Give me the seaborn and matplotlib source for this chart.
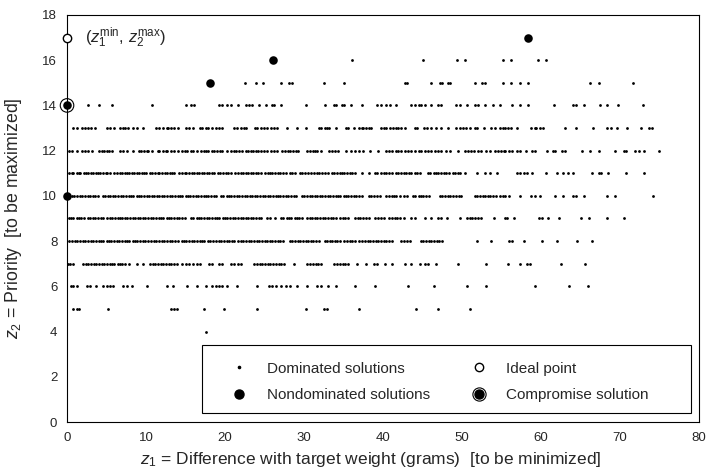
import numpy as np
import pandas as pd
import matplotlib
matplotlib.use("Agg")
import matplotlib.pyplot as plt
from matplotlib.lines import Line2D
from matplotlib.patches import Rectangle
from matplotlib.legend_handler import HandlerTuple
import seaborn as sns

# Dominated solutions: z1 values (grams) for each priority level z2
dom_z2_4 = [17.6]
dom_z2_5 = [0.8, 1.3, 1.5, 5.2, 13.2, 13.6, 13.9, 17.3, 19.9, 24.1, 30.2, 32.5, 32.9,
            36.9, 44.2, 46.9, 51.0]
dom_z2_6 = [0.5, 0.8, 1.3, 2.5, 2.9, 3.7, 4.5, 5.0, 5.4, 5.8, 7.1, 7.6, 8.2, 10.1, 12.7,
            13.4, 15.2, 16.4, 17.6, 18.4, 18.9, 19.3, 19.6, 20.2, 21.5, 24.1, 25.6, 25.9,
            26.4, 27.1, 27.7, 28.2, 29.1, 30.4, 31.6, 32.2, 33.0, 34.1, 36.5, 39.0, 43.2,
            46.5, 50.6, 53.1, 59.3, 63.5, 66.0]
dom_z2_7 = [0.1, 0.4, 0.7, 2.0, 2.4, 2.7, 3.0, 3.4, 3.7, 4.0, 4.4, 4.7, 5.0, 5.4, 5.7,
            6.0, 6.4, 6.7, 7.0, 7.4, 7.8, 8.9, 9.6, 10.5, 10.9, 11.2, 11.5, 11.9, 12.2,
            12.5, 12.9, 13.2, 13.6, 13.9, 14.5, 15.1, 15.5, 15.9, 16.4, 16.8, 18.0, 18.4,
            19.3, 19.6, 20.8, 21.2, 21.6, 22.0, 23.7, 24.1, 24.4, 24.7, 25.1, 25.4, 25.7,
            26.1, 26.4, 26.8, 27.1, 27.5, 28.7, 30.4, 30.8, 31.1, 31.5, 31.8, 32.2, 33.8,
            34.2, 34.5, 34.9, 35.2, 35.6, 36.7, 37.9, 38.9, 39.3, 40.3, 41.1, 42.8, 43.5,
            44.7, 45.3, 45.7, 46.7, 49.5, 53.1, 55.8, 57.4, 58.2, 58.6, 62.5, 65.6]
dom_z2_8 = [0.3, 0.6, 1.0, 1.3, 1.6, 2.0, 2.3, 2.7, 3.0, 3.3, 3.7, 4.0, 4.3, 4.6, 5.0,
            5.3, 5.6, 6.0, 6.3, 6.6, 6.9, 7.3, 7.6, 7.9, 8.3, 8.6, 8.9, 9.2, 9.6, 9.9,
            10.2, 10.6, 11.0, 11.3, 11.7, 12.0, 12.3, 12.7, 13.0, 13.3, 13.7, 14.1, 14.5,
            14.8, 15.1, 15.5, 15.8, 16.1, 16.5, 16.8, 17.1, 17.4, 17.8, 18.1, 18.5, 18.9,
            19.2, 19.5, 19.9, 20.2, 20.5, 20.9, 21.2, 21.7, 22.0, 22.3, 22.7, 23.0, 23.3,
            23.7, 24.0, 24.3, 24.7, 25.0, 25.3, 25.7, 26.0, 26.3, 26.7, 27.0, 27.4, 28.2,
            28.5, 28.9, 29.2, 29.5, 29.9, 30.2, 30.5, 30.9, 31.2, 31.5, 31.9, 32.6, 32.9,
            33.3, 33.6, 33.9, 34.2, 34.6, 35.1, 35.5, 35.8, 36.1, 36.5, 36.9, 37.4, 37.7,
            38.1, 38.4, 38.7, 39.1, 39.4, 39.7, 40.1, 40.4, 40.7, 41.1, 42.3, 42.6, 43.0,
            43.4, 44.8, 45.1, 45.5, 45.8, 46.1, 46.5, 46.8, 47.1, 47.5, 51.9, 53.7, 56.0,
            56.3, 57.9, 60.1, 62.0, 64.6, 66.5]
dom_z2_9 = [0.2, 0.5, 0.8, 1.2, 1.5, 1.8, 2.2, 2.6, 2.9, 3.3, 3.6, 3.9, 4.3, 4.6, 5.1,
            5.4, 5.7, 6.1, 6.4, 6.7, 7.0, 7.3, 7.6, 8.0, 8.3, 8.6, 9.0, 9.3, 9.6, 9.9,
            10.3, 10.6, 10.9, 11.3, 11.6, 11.9, 12.2, 12.6, 12.9, 13.2, 13.6, 13.9, 14.2,
            14.5, 14.9, 15.7, 16.0, 16.4, 16.7, 17.0, 17.4, 17.7, 18.0, 18.3, 18.7, 19.0,
            19.3, 19.7, 20.0, 20.3, 20.6, 21.0, 21.3, 21.6, 22.0, 22.3, 22.6, 22.9, 23.3,
            23.6, 23.9, 24.3, 24.6, 25.3, 25.7, 26.3, 27.1, 27.4, 27.8, 28.1, 28.4, 28.8,
            29.1, 29.4, 29.8, 30.4, 30.7, 31.0, 31.4, 31.7, 32.0, 32.4, 32.7, 33.0, 33.4,
            33.7, 34.1, 34.5, 34.9, 35.2, 35.6, 36.4, 36.8, 37.1, 37.5, 37.8, 38.2, 39.0,
            39.4, 39.7, 40.1, 40.8, 41.1, 41.5, 41.8, 42.2, 42.6, 43.5, 44.0, 45.3, 46.1,
            47.0, 47.4, 48.1, 49.7, 50.6, 51.0, 51.3, 51.7, 52.0, 52.4, 54.1, 55.4, 55.7,
            56.6, 59.8, 60.1, 60.9, 62.3, 65.1, 66.1, 68.4, 70.5]
dom_z2_10 = [0.6, 0.9, 1.3, 1.6, 1.9, 2.3, 2.6, 2.9, 3.3, 3.6, 3.9, 4.5, 4.8, 5.2, 5.5,
             5.8, 6.1, 6.5, 6.8, 7.1, 7.5, 7.8, 8.1, 8.4, 8.8, 9.1, 9.4, 9.7, 10.1, 10.4,
             10.7, 11.0, 11.4, 11.7, 12.0, 12.3, 12.7, 13.0, 13.3, 13.7, 14.0, 14.3, 14.6,
             15.0, 15.3, 15.6, 15.9, 16.3, 16.6, 16.9, 17.3, 17.6, 17.9, 18.2, 18.6, 18.9,
             19.5, 19.8, 20.2, 20.5, 20.8, 21.1, 21.5, 21.8, 22.1, 22.5, 22.8, 23.1, 23.4,
             23.8, 24.1, 24.4, 24.8, 25.1, 25.4, 25.7, 26.1, 26.4, 26.7, 27.0, 27.4, 27.7,
             28.0, 28.4, 28.7, 29.0, 29.7, 30.0, 30.4, 30.7, 31.0, 31.4, 31.7, 32.0, 32.3,
             32.7, 33.0, 33.3, 33.7, 34.0, 34.3, 34.6, 35.0, 35.3, 35.6, 36.0, 36.3, 36.6,
             36.9, 37.3, 38.2, 38.5, 38.9, 39.2, 39.6, 40.4, 40.7, 41.1, 41.4, 41.7, 42.1,
             42.6, 43.1, 43.8, 44.1, 44.5, 44.8, 45.1, 45.5, 45.8, 47.2, 47.5, 47.9, 48.2,
             48.5, 48.9, 49.2, 49.6, 49.9, 51.6, 51.9, 52.3, 52.6, 52.9, 53.3, 53.6, 53.9,
             54.3, 54.8, 55.2, 55.5, 56.0, 57.4, 58.7, 59.3, 59.9, 61.8, 62.8, 64.0, 64.4,
             65.5, 68.4, 69.4, 74.2]
dom_z2_11 = [0.3, 0.6, 0.8, 1.2, 1.5, 1.7, 2.1, 2.4, 2.6, 3.0, 3.3, 3.7, 3.9, 4.2, 4.6,
             4.9, 5.1, 5.5, 6.0, 6.3, 6.7, 6.9, 7.3, 7.6, 7.8, 8.2, 8.5, 8.8, 9.1, 9.5,
             9.7, 10.0, 10.5, 10.8, 11.1, 11.5, 11.7, 12.0, 12.4, 12.6, 13.0, 13.3, 13.6,
             14.2, 14.5, 14.9, 15.1, 15.5, 15.8, 16.1, 16.4, 16.7, 17.1, 17.3, 17.7, 18.0,
             18.3, 18.6, 19.1, 19.4, 19.8, 20.1, 20.4, 20.8, 21.3, 21.6, 22.0, 22.3, 22.6,
             22.9, 23.3, 23.6, 23.9, 24.2, 24.5, 25.0, 25.4, 25.7, 26.0, 26.3, 26.7, 27.0,
             27.3, 27.7, 28.2, 28.5, 28.9, 29.5, 29.8, 30.1, 30.5, 30.9, 31.3, 31.6, 31.9,
             32.3, 32.6, 33.0, 33.5, 33.8, 34.2, 34.5, 34.8, 35.1, 35.5, 35.8, 36.1, 36.4,
             37.3, 38.2, 39.0, 39.3, 39.7, 40.1, 40.4, 40.8, 41.1, 41.6, 41.9, 42.3, 42.6,
             42.9, 43.3, 43.6, 44.0, 44.3, 44.7, 45.7, 46.0, 46.4, 46.7, 47.0, 47.4, 47.7,
             48.0, 48.4, 48.8, 49.1, 49.5, 49.8, 50.4, 51.9, 52.9, 53.5, 54.4, 56.9, 57.4,
             57.8, 58.2, 58.8, 60.6, 62.0, 62.8, 63.4, 64.1, 66.4, 67.4, 67.6, 68.5, 70.8,
             73.1]
dom_z2_12 = [0.2, 0.6, 1.3, 1.9, 2.3, 2.6, 3.1, 4.0, 4.4, 4.7, 5.0, 5.3, 5.7, 6.7, 7.1,
             7.6, 8.3, 9.1, 9.4, 9.7, 10.1, 10.3, 10.7, 11.5, 11.7, 12.1, 12.5, 12.7, 13.2,
             13.6, 14.0, 14.5, 14.9, 15.2, 15.7, 16.0, 16.4, 17.0, 17.3, 17.6, 17.9, 18.3,
             18.6, 19.0, 19.4, 19.6, 20.2, 20.8, 21.2, 21.4, 21.8, 22.2, 22.7, 22.9, 23.3,
             23.6, 23.9, 24.2, 24.6, 24.9, 25.3, 25.8, 26.2, 26.6, 27.2, 27.6, 28.0, 28.2,
             28.6, 29.0, 29.3, 30.4, 30.7, 31.1, 31.4, 31.7, 32.2, 33.2, 33.5, 33.9, 34.3,
             35.3, 36.0, 36.4, 36.9, 37.5, 38.4, 39.4, 40.4, 40.8, 41.1, 41.6, 41.9, 42.3,
             42.8, 43.2, 43.6, 44.1, 44.5, 44.8, 45.3, 45.7, 46.1, 46.6, 47.0, 47.4, 48.0,
             48.5, 49.5, 50.4, 50.8, 51.1, 51.5, 52.0, 52.4, 53.0, 53.5, 54.2, 54.5, 54.9,
             55.3, 55.5, 55.9, 56.3, 56.9, 57.4, 58.1, 58.9, 59.3, 60.7, 61.5, 61.8, 62.6,
             63.0, 65.2, 66.2, 67.4, 69.4, 70.5, 70.8, 71.9, 72.4, 73.0, 74.9]
dom_z2_13 = [0.8, 1.3, 1.9, 2.3, 2.6, 3.0, 3.5, 5.0, 5.5, 6.0, 6.7, 7.1, 7.3, 7.7, 8.3,
             8.9, 9.6, 11.3, 11.7, 12.1, 12.6, 12.8, 13.2, 13.6, 14.0, 15.0, 15.5, 15.9,
             16.8, 17.1, 17.6, 17.9, 18.4, 18.9, 19.3, 19.6, 21.2, 21.5, 22.0, 22.4, 22.7,
             23.8, 24.1, 24.6, 24.9, 25.3, 25.8, 26.2, 26.6, 27.8, 29.1, 30.2, 31.9, 32.2,
             32.6, 32.9, 33.2, 34.1, 35.3, 35.6, 36.3, 36.9, 37.3, 37.5, 37.8, 38.2, 38.5,
             39.7, 40.1, 40.4, 40.9, 41.3, 41.6, 41.9, 42.3, 42.8, 44.1, 44.3, 45.2, 45.6,
             46.1, 46.7, 47.4, 48.2, 49.2, 49.7, 50.1, 50.5, 51.0, 51.6, 51.9, 52.8, 53.7,
             54.2, 54.8, 55.2, 55.4, 55.8, 56.2, 56.9, 58.7, 59.2, 59.4, 59.9, 60.3, 63.0,
             64.4, 66.6, 68.3, 68.8, 69.6, 70.9, 72.7, 73.7, 74.1]
dom_z2_14 = [2.6, 4.0, 5.7, 10.7, 15.1, 15.7, 16.1, 19.3, 19.6, 20.2, 20.8, 21.7, 22.7,
             23.0, 23.4, 24.3, 25.2, 25.9, 26.2, 27.1, 30.2, 32.7, 33.8, 34.1, 34.8, 35.1,
             35.9, 37.4, 39.2, 39.7, 40.4, 40.9, 41.7, 43.6, 44.1, 44.5, 44.8, 45.3, 46.1,
             47.0, 47.4, 49.2, 49.7, 50.6, 51.6, 52.0, 52.9, 53.9, 54.8, 56.3, 57.3, 58.3,
             61.7, 64.0, 64.4, 65.5, 67.5, 68.4, 69.8, 72.9]
dom_z2_15 = [22.5, 23.9, 24.8, 27.1, 28.1, 28.5, 32.5, 35.1, 42.8, 43.1, 46.1, 47.2, 47.5,
             48.2, 48.5, 51.6, 52.5, 52.9, 55.2, 56.2, 57.4, 58.3, 66.2, 67.3, 71.7]
dom_z2_16 = [36.1, 45.0, 49.4, 50.4, 55.2, 56.2, 59.6, 60.6]

# Nondominated solutions, ideal point, compromise solution
nd_z1 = [0.0, 0.0, 18.1, 26.1, 58.4]
nd_z2 = [10, 14, 15, 16, 17]
ideal_z1, ideal_z2 = [0.0], [17]
comp_z1, comp_z2 = [0.0], [14]

x_ticks = list(range(0, 81, 10))
y_ticks = list(range(0, 19, 2))

rows = {4: dom_z2_4, 5: dom_z2_5, 6: dom_z2_6, 7: dom_z2_7, 8: dom_z2_8, 9: dom_z2_9,
        10: dom_z2_10, 11: dom_z2_11, 12: dom_z2_12, 13: dom_z2_13, 14: dom_z2_14,
        15: dom_z2_15, 16: dom_z2_16}
dom = pd.DataFrame([(x, z2) for z2, xs in rows.items() for x in xs], columns=["z1", "z2"])
nd = pd.DataFrame({"z1": nd_z1, "z2": nd_z2})

sns.set_style("white")
plt.rcParams["font.family"] = ["Liberation Sans", "DejaVu Sans"]
plt.rcParams["mathtext.fontset"] = "custom"
plt.rcParams["mathtext.rm"] = "Liberation Sans"
plt.rcParams["mathtext.it"] = "Liberation Sans:italic"

fig, ax = plt.subplots(figsize=(7.1, 4.74), dpi=100)
fig.subplots_adjust(left=0.0944, right=0.9845, top=0.9684, bottom=0.1097)

sns.scatterplot(data=dom, x="z1", y="z2", color="black", s=4, linewidth=0,
                legend=False, ax=ax, zorder=3)
sns.scatterplot(data=nd, x="z1", y="z2", color="black", s=38, linewidth=0,
                legend=False, ax=ax, zorder=4, clip_on=False)
ax.scatter(comp_z1, comp_z2, s=95, facecolors="none", edgecolors="black",
           linewidths=0.8, zorder=4, clip_on=False)
ax.scatter(ideal_z1, ideal_z2, s=36, facecolors="white", edgecolors="black",
           linewidths=1.0, zorder=4, clip_on=False)
ax.text(2.3, 17, r"($z_1^{\mathrm{min}}$, $z_2^{\mathrm{max}}$)", fontsize=12,
        va="center", ha="left")

ax.set_xlim(0, 80)
ax.set_ylim(0, 18)
ax.set_xticks(x_ticks)
ax.set_yticks(y_ticks)
ax.tick_params(axis="both", length=0, labelsize=9.5, pad=7)
for sp in ax.spines.values():
    sp.set_visible(True)
    sp.set_color("black")
    sp.set_linewidth(0.8)

ax.set_xlabel(r"$z_1$ = Difference with target weight (grams)  [to be minimized]",
              fontsize=12.5)
ax.xaxis.set_label_coords(0.481, -0.07)
ax.set_ylabel(r"$z_2$ = Priority  [to be maximized]", fontsize=12.8, labelpad=13)

# legend box
ax.add_patch(Rectangle((0.2136, 0.0221), 0.7737, 0.167, transform=ax.transAxes,
                       facecolor="white", edgecolor="black", linewidth=0.8, zorder=5))
h_dom = Line2D([], [], ls="", marker="o", ms=1.6, color="black")
h_nd = Line2D([], [], ls="", marker="o", ms=6.5, color="black")
h_ideal = Line2D([], [], ls="", marker="o", ms=6, mfc="white", mec="black", mew=1.0)
h_ring = Line2D([], [], ls="", marker="o", ms=9.5, mfc="none", mec="black", mew=0.8)
h_comp = (h_ring, h_nd)
leg = ax.legend([h_dom, h_nd, h_ideal, h_comp],
                ["Dominated solutions", "Nondominated solutions", "Ideal point",
                 "Compromise solution"],
                handler_map={tuple: HandlerTuple(ndivide=1)},
                ncol=2, frameon=False, fontsize=11, loc="upper left",
                bbox_to_anchor=(0.248, 0.148), borderpad=0, borderaxespad=0,
                handlelength=2, handletextpad=0.8, columnspacing=2.2,
                labelspacing=0.81)
leg.set_zorder(6)

fig.savefig("out.png", dpi=100)
